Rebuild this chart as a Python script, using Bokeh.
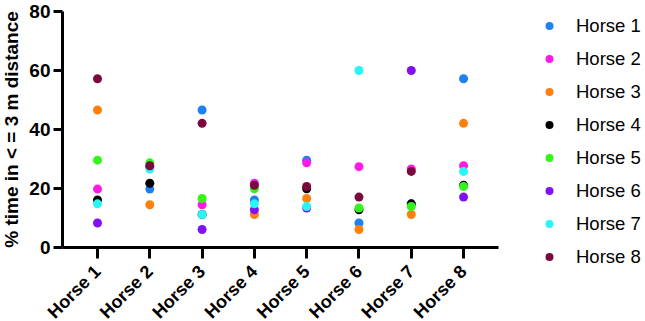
import math
from bokeh.plotting import figure
from bokeh.models import ColumnDataSource, FixedTicker, Legend, LegendItem, Range1d
from bokeh.embed import file_html
from bokeh.resources import INLINE

nan = float("nan")

categories = ["Horse 1", "Horse 2", "Horse 3", "Horse 4",
              "Horse 5", "Horse 6", "Horse 7", "Horse 8"]
series_names = ["Horse 1", "Horse 2", "Horse 3", "Horse 4",
                "Horse 5", "Horse 6", "Horse 7", "Horse 8"]

horse1 = [nan, 19.8, 46.6, 16.1, 29.6, 8.3, 14.8, 57.2]
horse2 = [19.8, nan, 14.5, 21.8, 28.7, 27.4, 26.6, 27.7]
horse3 = [46.6, 14.5, nan, 11.2, 16.6, 6.1, 11.2, 42.1]
horse4 = [16.1, 21.8, 11.2, nan, 19.9, 12.8, 14.8, 21.1]
horse5 = [29.6, 28.7, 16.6, 19.9, nan, 13.4, 13.9, 20.7]
horse6 = [8.3, 27.4, 6.1, 12.8, 13.4, nan, 60.0, 17.1]
horse7 = [14.8, 26.6, 11.2, 14.8, 13.9, 60.0, nan, 25.8]
horse8 = [57.2, 27.7, 42.1, 21.1, 20.7, 17.1, 25.8, nan]
series_values = [horse1, horse2, horse3, horse4, horse5, horse6, horse7, horse8]

y_ticks = [0, 20, 40, 60, 80]

colors = ["#1F80F0", "#FF1AE8", "#FF800F", "#000000",
          "#33F51A", "#8011F5", "#2AF5F5", "#7A0A3D"]

FONT = "Liberation Sans"
x_pos = list(range(1, len(categories) + 1))

p = figure(width=644, height=321, output_backend="svg", toolbar_location=None,
           x_range=Range1d(-0.855, 11.46), y_range=Range1d(-25.08, 83.73),
           min_border_left=0, min_border_right=0, min_border_top=0,
           min_border_bottom=0)
p.outline_line_color = None
p.grid.visible = False
p.background_fill_color = "white"

items = []
for name, vals, col in zip(series_names, series_values, colors):
    src = ColumnDataSource(dict(x=x_pos, y=vals))
    r = p.scatter("x", "y", source=src, size=9, fill_color=col, line_color=col,
                  line_width=0)
    items.append(LegendItem(label=name, renderers=[r]))

# axes (drawn inside the frame at fixed positions)
xa = p.xaxis[0]
xa.ticker = FixedTicker(ticks=x_pos)
xa.major_label_overrides = {i: c for i, c in zip(x_pos, categories)}
xa.major_label_orientation = math.pi / 4
xa.bounds = (0.33, 8.67)
xa.fixed_location = 0
ya = p.yaxis[0]
ya.ticker = FixedTicker(ticks=y_ticks)
ya.bounds = (0, 80)
ya.fixed_location = 0.33
ya.axis_label = "% time in < = 3 m distance"

for ax, tick_out, fs in ((xa, 11, "18px"), (ya, 9, "19px")):
    ax.axis_line_width = 3
    ax.axis_line_color = "black"
    ax.major_tick_line_width = 3
    ax.major_tick_line_color = "black"
    ax.major_tick_out = tick_out
    ax.major_tick_in = 0
    ax.minor_tick_line_color = None
    ax.major_label_text_font = FONT
    ax.major_label_text_font_style = "bold"
    ax.major_label_text_font_size = fs
    ax.major_label_text_color = "black"
    ax.major_label_standoff = 3
    ax.axis_label_text_font = FONT
    ax.axis_label_text_font_style = "bold"
    ax.axis_label_text_font_size = "19px"
    ax.axis_label_text_color = "black"
    ax.axis_label_standoff = 4
xa.major_label_standoff = 10

legend = Legend(items=items, location=(539, 53), ncols=1,
                label_text_font=FONT, label_text_font_size="18.5px",
                label_text_color="black",
                glyph_width=20, glyph_height=23, label_height=23,
                label_standoff=17, spacing=10, padding=0, margin=0,
                border_line_color=None, background_fill_alpha=0)
p.add_layout(legend, "center")

open("out.html", "w").write(file_html(p, INLINE))
